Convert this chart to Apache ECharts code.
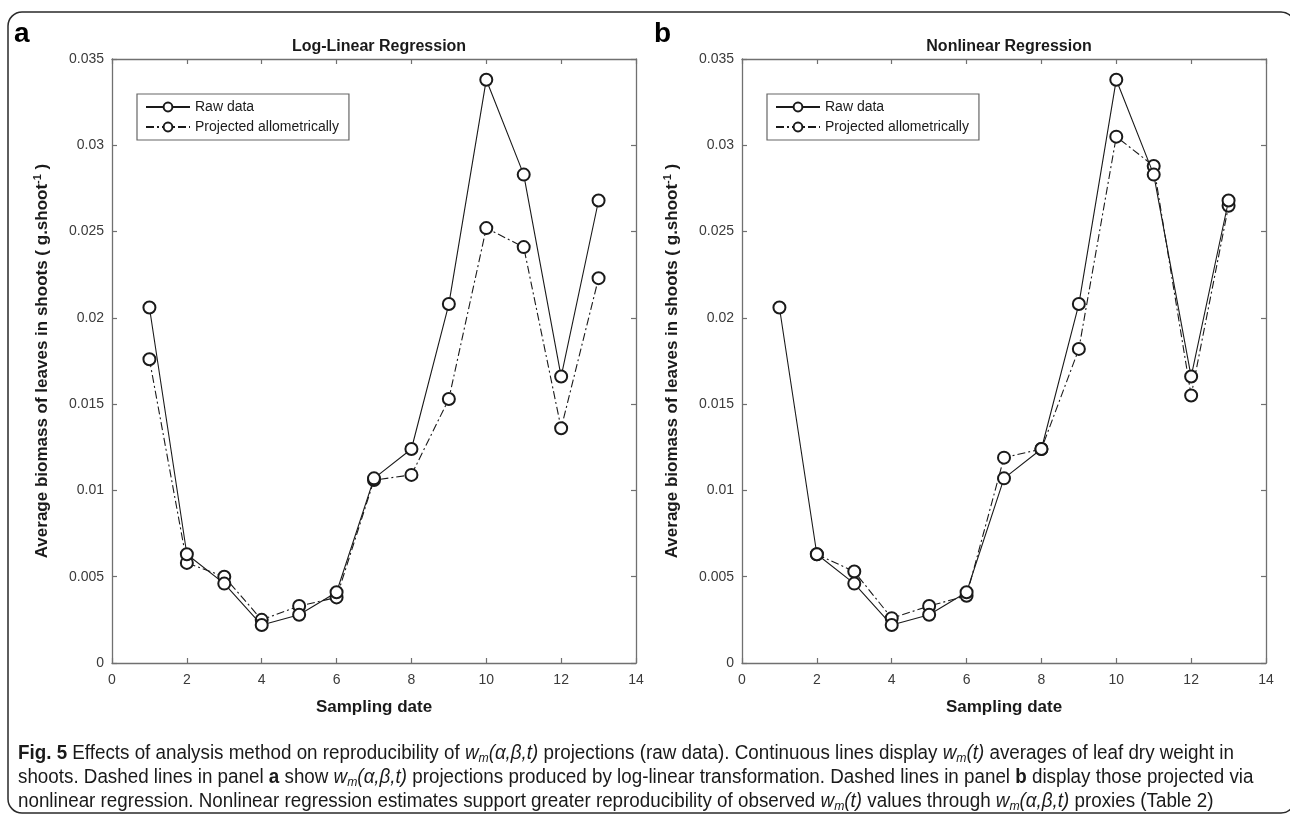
<!DOCTYPE html>
<html><head><meta charset="utf-8">
<script src="https://cdn.jsdelivr.net/npm/echarts@6/dist/echarts.min.js"></script>
<style>html,body{margin:0;padding:0;background:#fff}#c{width:1290px;height:816px}</style>
</head><body><div id="c"></div>
<script>
// ---- data ----
const dates = [1, 2, 3, 4, 5, 6, 7, 8, 9, 10, 11, 12, 13];
const rawA  = [0.0206, 0.0063, 0.0046, 0.0022, 0.0028, 0.0041, 0.0107, 0.0124, 0.0208, 0.0338, 0.0283, 0.0166, 0.0268];
const projA = [0.0176, 0.0058, 0.0050, 0.0025, 0.0033, 0.0038, 0.0106, 0.0109, 0.0153, 0.0252, 0.0241, 0.0136, 0.0223];
const rawB  = [0.0206, 0.0063, 0.0046, 0.0022, 0.0028, 0.0041, 0.0107, 0.0124, 0.0208, 0.0338, 0.0283, 0.0166, 0.0268];
const projB = [null,   0.0063, 0.0053, 0.0026, 0.0033, 0.0039, 0.0119, 0.0124, 0.0182, 0.0305, 0.0288, 0.0155, 0.0265];
const seriesNames = ['Raw data', 'Projected allometrically'];
const panelTitles = ['Log-Linear Regression', 'Nonlinear Regression'];
const panelLetters = ['a', 'b'];
const xLabel = 'Sampling date';
const yLabel = 'Average biomass of leaves in shoots ( g.shoot{sup|-1} )';

const toPts = arr => dates.map((d, i) => [d, arr[i]]).filter(p => p[1] !== null);

const FONT = '"Liberation Sans", Arial, sans-serif';
const axisCol = '#707070';
const labCol = '#3a3a3a';
const lineCol = '#1a1a1a';

const grids = [
  { left: 112, top: 59, width: 524, height: 604 },
  { left: 742, top: 59, width: 524, height: 604 }
];

const xAxes = [], yAxes = [], series = [], titles = [], legends = [];
grids.forEach((g, gi) => {
  const common = {
    gridIndex: gi, type: 'value',
    axisLine: { show: true, onZero: false, lineStyle: { color: axisCol, width: 1.3 } },
    axisTick: { show: true, inside: true, length: 5, lineStyle: { color: axisCol, width: 1.2 } },
    splitLine: { show: false }
  };
  xAxes.push(Object.assign({}, common, {
    position: 'bottom', min: 0, max: 14, interval: 2,
    axisLabel: { color: labCol, fontSize: 14, fontFamily: FONT, margin: 10 },
    name: xLabel, nameLocation: 'middle', nameGap: 36,
    nameTextStyle: { fontSize: 17, fontWeight: 'bold', color: '#1a1a1a', fontFamily: FONT }
  }));
  xAxes.push(Object.assign({}, common, {
    position: 'top', min: 0, max: 14, interval: 2, axisLabel: { show: false }
  }));
  yAxes.push(Object.assign({}, common, {
    position: 'left', min: 0, max: 0.035, interval: 0.005,
    axisLabel: { color: labCol, fontSize: 14, fontFamily: FONT, margin: 8,
      formatter: v => String(parseFloat(v.toFixed(3))) },
    name: yLabel, nameLocation: 'middle', nameGap: 60, nameRotate: 90,
    nameTextStyle: { fontSize: 17, fontWeight: 'bold', color: '#1a1a1a', fontFamily: FONT,
      rich: { sup: { fontSize: 11, fontWeight: 'bold', color: '#1a1a1a', fontFamily: FONT, padding: [0, 0, 9, 0] } } }
  }));
  yAxes.push(Object.assign({}, common, {
    position: 'right', min: 0, max: 0.035, interval: 0.005, axisLabel: { show: false }
  }));
  titles.push({
    text: panelTitles[gi], left: g.left + g.width / 2, top: 34, textAlign: 'center',
    textStyle: { fontSize: 16, fontWeight: 'bold', color: '#1a1a1a', fontFamily: FONT }
  });
  const raw = gi === 0 ? rawA : rawB;
  const proj = gi === 0 ? projA : projB;
  const sym = { symbol: 'emptyCircle', symbolSize: 12, showSymbol: true };
  series.push(Object.assign({
    name: seriesNames[0], type: 'line', xAxisIndex: gi * 2, yAxisIndex: gi * 2,
    data: toPts(raw), lineStyle: { color: lineCol, width: 1.1 },
    itemStyle: { color: lineCol, borderColor: lineCol, borderWidth: 1.1 }, z: 3, animation: false
  }, sym));
  series.push(Object.assign({
    name: seriesNames[1], type: 'line', xAxisIndex: gi * 2, yAxisIndex: gi * 2,
    data: toPts(proj), lineStyle: { color: lineCol, width: 1.1, type: [8, 3, 2, 3] },
    itemStyle: { color: lineCol, borderColor: lineCol, borderWidth: 1.1 }, z: 2, animation: false
  }, sym));
  legends.push({
    data: seriesNames, orient: 'vertical', left: g.left + 25, top: 94,
    itemWidth: 44, itemHeight: 11, itemGap: 6, padding: [6, 10, 6, 8],
    borderColor: '#666', borderWidth: 1.2, backgroundColor: '#fff',
    textStyle: { fontSize: 14, color: '#1a1a1a', fontFamily: FONT },
    selectedMode: false
  });
});

const cap = [
  '{b|Fig. 5} Effects of analysis method on reproducibility of {i|w}{sub|m}{i|(α,β,t)} projections (raw data). Continuous lines display {i|w}{sub|m}{i|(t)} averages of leaf dry weight in',
  'shoots. Dashed lines in panel {bb|a} show {i|w}{sub|m}{i|(α,β,t)} projections produced by log-linear transformation. Dashed lines in panel {bb|b} display those projected via',
  'nonlinear regression. Nonlinear regression estimates support greater reproducibility of observed {i|w}{sub|m}{i|(t)} values through {i|w}{sub|m}{i|(α,β,t)} proxies (Table {lk|2})'
];
const CFONT = '"Liberation Sans Narrow", "Liberation Sans", Arial, sans-serif';
const CS = 20;
const capRich = {
  b: { fontWeight: 'bold', fontSize: CS, fontFamily: CFONT, color: '#1a1a1a' },
  bb: { fontWeight: 'bold', fontSize: CS, fontFamily: FONT, color: '#1a1a1a' },
  i: { fontStyle: 'italic', fontSize: CS, fontFamily: CFONT, color: '#1a1a1a' },
  sub: { fontStyle: 'italic', fontSize: 13, fontFamily: CFONT, color: '#1a1a1a', padding: [10, 0, 0, 0] },
  lk: { fontSize: CS, fontFamily: CFONT, color: '#2a5db0' }
};

const graphic = [
  { type: 'rect', shape: { x: 8, y: 12, width: 1287, height: 801, r: 14 },
    style: { fill: 'none', stroke: '#2a2a2a', lineWidth: 1.5 }, silent: true },
  { type: 'text', x: 14, y: 20, style: { text: panelLetters[0], font: 'bold 28px ' + FONT, fill: '#000' } },
  { type: 'text', x: 654, y: 20, style: { text: panelLetters[1], font: 'bold 28px ' + FONT, fill: '#000' } }
];
cap.forEach((t, k) => {
  graphic.push({ type: 'text', x: 18, y: 742 + k * 24, scaleX: 0.94, style: {
    text: t, fontSize: CS, fontFamily: CFONT, fill: '#1a1a1a', rich: capRich } });
});

const chart = echarts.init(document.getElementById('c'), null, { renderer: 'canvas' });
chart.setOption({
  animation: false,
  backgroundColor: '#fff',
  title: titles,
  legend: legends,
  grid: grids,
  xAxis: xAxes,
  yAxis: yAxes,
  series: series,
  graphic: graphic
});
</script></body></html>
